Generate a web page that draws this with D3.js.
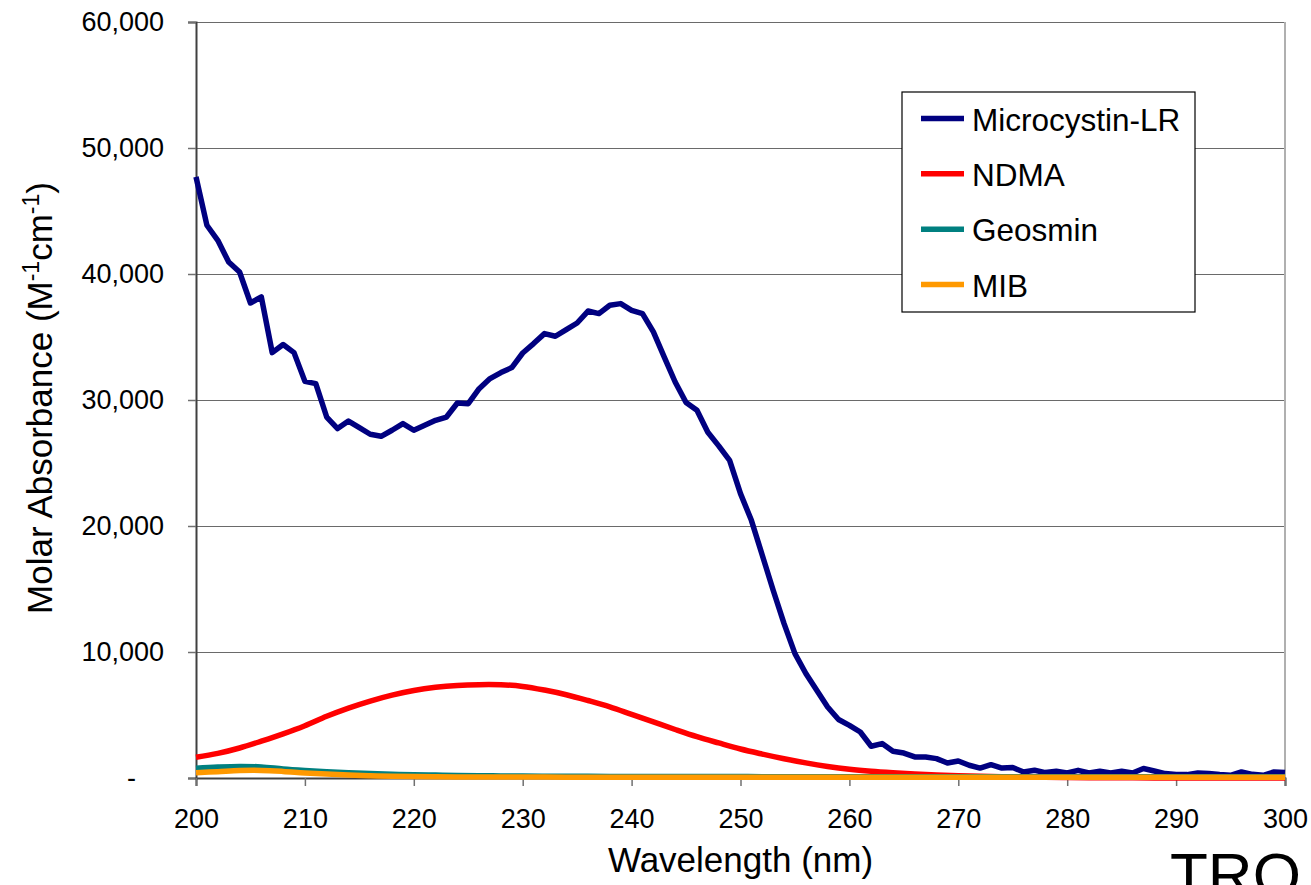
<!DOCTYPE html>
<html>
<head>
<meta charset="utf-8">
<script src="https://cdn.jsdelivr.net/npm/d3@7"></script>
<style>
  html, body { margin: 0; padding: 0; background: #fff; }
  svg { display: block; font-family: "Liberation Sans", Arial, sans-serif; }
</style>
</head>
<body>
<svg id="chart" width="1311" height="885"></svg>
<script>
// Wavelengths (nm) for the 1-nm Microcystin-LR scan
const wavelengths1 = d3.range(200, 301, 1);
// Wavelengths (nm) for the 2-nm NDMA / Geosmin / MIB spectra
const wavelengths2 = d3.range(200, 301, 2);

// Molar absorbance (M^-1 cm^-1)
const microcystinLR = [
  47700, 43870, 42670, 40950, 40160, 37700, 38180, 33760, 34400, 33760,
  31480, 31300, 28650, 27730, 28330, 27810, 27280, 27120, 27600, 28130,
  27600, 27990, 28390, 28650, 29760, 29710, 30900, 31700, 32180, 32570,
  33730, 34480, 35270, 35060, 35590, 36110, 37060, 36860, 37520, 37650,
  37120, 36860, 35400, 33410, 31430, 29800, 29180, 27440, 26360, 25210,
  22570, 20450, 17680, 14900, 12250, 9870, 8290, 6960, 5640, 4640,
  4180, 3650, 2520, 2730, 2120, 1980, 1670, 1670, 1540, 1190,
  1350, 1010, 790, 1060, 790, 830, 480, 610, 430, 530,
  400, 610, 400, 530, 400, 530, 400, 750, 560, 350,
  270, 270, 400, 350, 270, 210, 480, 290, 210, 480,
  430
];

const ndma = [
  1650, 1950, 2380, 2920, 3500, 4150, 4900, 5550, 6110, 6580,
  6950, 7200, 7350, 7410, 7400, 7270, 6980, 6610, 6150, 5650,
  5050, 4450, 3850, 3280, 2780, 2300, 1900, 1530, 1200, 920,
  700, 540, 420, 320, 240, 180, 130, 95, 70, 50,
  35, 25, 18, 12, 8, 5, 3, 2, 1, 1,
  0
];

const geosmin = [
  780, 870, 920, 880, 720, 600, 500, 420, 360, 300,
  260, 230, 200, 180, 165, 150, 140, 135, 130, 125,
  120, 118, 116, 114, 112, 110, 108, 107, 106, 105,
  104, 103, 102, 102, 101, 100, 100, 100, 100, 100,
  100, 100, 100, 100, 100, 100, 100, 100, 100, 100,
  100
];

const mib = [
  420, 500, 590, 600, 520, 400, 310, 240, 180, 140,
  110, 95, 85, 80, 76, 73, 70, 68, 66, 65,
  64, 63, 62, 62, 61, 61, 60, 60, 60, 60,
  60, 60, 60, 60, 60, 60, 60, 60, 60, 60,
  60, 60, 60, 60, 60, 60, 60, 60, 60, 60,
  60
];

const seriesNames = ["Microcystin-LR", "NDMA", "Geosmin", "MIB"];
const seriesColors = ["#000080", "#ff0000", "#008080", "#ff9900"];

const xTicks = [200, 210, 220, 230, 240, 250, 260, 270, 280, 290, 300];
const yTicks = [0, 10000, 20000, 30000, 40000, 50000, 60000];

const series = [
  { name: seriesNames[0], color: seriesColors[0], x: wavelengths1, y: microcystinLR, smooth: false },
  { name: seriesNames[1], color: seriesColors[1], x: wavelengths2, y: ndma, smooth: true },
  { name: seriesNames[2], color: seriesColors[2], x: wavelengths2, y: geosmin, smooth: true },
  { name: seriesNames[3], color: seriesColors[3], x: wavelengths2, y: mib, smooth: true }
];

const svg = d3.select("#chart");
const plot = { left: 196, right: 1285, top: 22, bottom: 778 };

const x = d3.scaleLinear().domain([200, 300]).range([plot.left, plot.right]);
const y = d3.scaleLinear().domain([0, 60000]).range([plot.bottom, plot.top]);

// Horizontal gridlines
svg.append("g")
  .selectAll("line")
  .data(yTicks.filter(d => d > 0))
  .join("line")
  .attr("x1", plot.left).attr("x2", plot.right)
  .attr("y1", d => Math.round(y(d)) + 0.5).attr("y2", d => Math.round(y(d)) + 0.5)
  .attr("stroke", "#6a6a6a").attr("stroke-width", 1.2);

// Right border of the plot area
svg.append("line")
  .attr("x1", plot.right).attr("x2", plot.right)
  .attr("y1", plot.top).attr("y2", plot.bottom)
  .attr("stroke", "#b0b0b0").attr("stroke-width", 2);

// Y axis
const yAxis = svg.append("g")
  .attr("transform", `translate(${plot.left},0)`)
  .call(d3.axisLeft(y).tickValues(yTicks).tickSize(8).tickPadding(24)
    .tickFormat(d => d === 0 ? "-" : d3.format(",")(d)));
yAxis.select(".domain").attr("stroke", "#404040").attr("stroke-width", 2);
yAxis.selectAll(".tick line").attr("stroke", "#707070").attr("stroke-width", 1.5);
yAxis.selectAll(".tick text")
  .attr("font-size", 27).attr("fill", "#000")
  .attr("font-family", "'Liberation Sans', Arial, sans-serif");
yAxis.selectAll(".tick").filter(d => d === 0).select("text").attr("x", -60);

// X axis
const xAxis = svg.append("g")
  .attr("transform", `translate(0,${plot.bottom})`)
  .call(d3.axisBottom(x).tickValues(xTicks).tickSize(8).tickPadding(23).tickFormat(d3.format("d")));
xAxis.select(".domain").attr("stroke", "#404040").attr("stroke-width", 2);
xAxis.selectAll(".tick line").attr("stroke", "#707070").attr("stroke-width", 1.5);
xAxis.selectAll(".tick text")
  .attr("font-size", 27).attr("fill", "#000")
  .attr("font-family", "'Liberation Sans', Arial, sans-serif");

// Series lines
series.forEach(s => {
  const line = d3.line()
    .x((d, i) => x(s.x[i]))
    .y(d => y(d))
    .curve(s.smooth ? d3.curveCatmullRom.alpha(0.5) : d3.curveLinear);
  svg.append("path")
    .datum(s.y)
    .attr("d", line)
    .attr("fill", "none")
    .attr("stroke", s.color)
    .attr("stroke-width", 5.5)
    .attr("stroke-linejoin", "round")
    .attr("stroke-linecap", "butt");
});

// Axis titles
svg.append("text")
  .attr("x", (plot.left + plot.right) / 2).attr("y", 872)
  .attr("text-anchor", "middle").attr("font-size", 35).attr("fill", "#000")
  .text("Wavelength (nm)");

const yTitle = svg.append("text")
  .attr("transform", `translate(52,398) rotate(-90)`)
  .attr("text-anchor", "middle").attr("font-size", 35).attr("fill", "#000");
yTitle.append("tspan").text("Molar Absorbance (M");
yTitle.append("tspan").attr("font-size", 23).attr("dy", -13).text("-1");
yTitle.append("tspan").attr("dy", 13).text("cm");
yTitle.append("tspan").attr("font-size", 23).attr("dy", -13).text("-1");
yTitle.append("tspan").attr("dy", 13).text(")");

// Legend
const legend = svg.append("g");
legend.append("rect")
  .attr("x", 902).attr("y", 92).attr("width", 293).attr("height", 220)
  .attr("fill", "#fff").attr("stroke", "#000").attr("stroke-width", 1.2);
const rowY = d3.scalePoint().domain(seriesNames).range([118.5, 284.5]);
const rows = legend.selectAll("g.row").data(series).join("g").attr("class", "row")
  .attr("transform", d => `translate(0,${rowY(d.name)})`);
rows.append("line")
  .attr("x1", 921).attr("x2", 964).attr("y1", 0).attr("y2", 0)
  .attr("stroke", d => d.color).attr("stroke-width", 5.5);
rows.append("text")
  .attr("x", 972).attr("y", 12)
  .attr("font-size", 31.5).attr("fill", "#000")
  .text(d => d.name);

// Slide caption running off the lower-right corner
svg.append("text")
  .attr("x", 1170).attr("y", 896)
  .attr("font-size", 62).attr("fill", "#000")
  .text("TRO");
</script>
</body>
</html>
